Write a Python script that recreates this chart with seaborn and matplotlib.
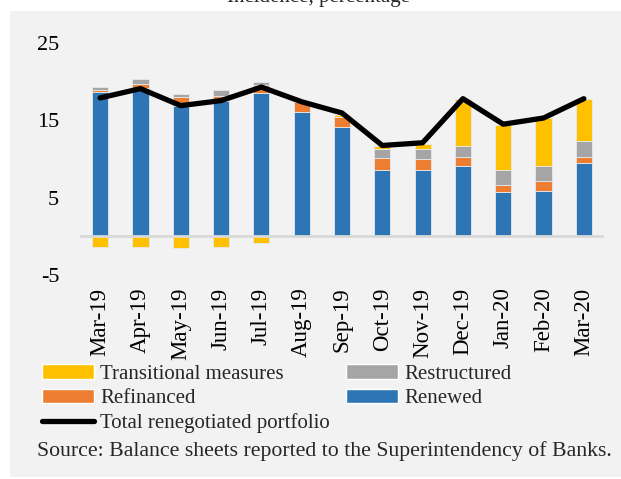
import numpy as np
import pandas as pd
import matplotlib
matplotlib.use("Agg")
import matplotlib.pyplot as plt
import seaborn as sns
from matplotlib.patches import Rectangle, Patch
from matplotlib.lines import Line2D

months = ["Mar-19", "Apr-19", "May-19", "Jun-19", "Jul-19", "Aug-19", "Sep-19",
          "Oct-19", "Nov-19", "Dec-19", "Jan-20", "Feb-20", "Mar-20"]
renewed = [18.7, 19.2, 16.8, 17.5, 18.55, 16.1, 14.1, 8.55, 8.55, 9.15, 5.7, 5.8, 9.45]
refinanced = [0.2, 0.55, 1.2, 0.6, 1.05, 1.3, 1.35, 1.55, 1.5, 1.05, 1.0, 1.4, 0.8]
restructured = [0.45, 0.55, 0.4, 0.8, 0.35, 0.0, 0.0, 1.2, 1.3, 1.5, 1.9, 1.95, 2.1]
transitional = [-1.4, -1.4, -1.5, -1.4, -0.8, 0.0, 0.25, 0.4, 0.65, 6.0, 5.85, 6.15, 5.4]
total = [17.9, 19.1, 16.9, 17.55, 19.3, 17.4, 15.95, 11.75, 12.1, 17.8, 14.5, 15.3, 17.8]
yticks = [25, 15, 5, -5]

c_blue = "#2E75B6"
c_orange = "#ED7D31"
c_gray = "#A5A5A5"
c_yellow = "#FFC000"
bg = "#F2F2F2"

sns.set_theme(style="white")
plt.rcParams["font.family"] = ["Liberation Serif", "DejaVu Serif"]

fig = plt.figure(figsize=(6.21, 4.79), dpi=100, facecolor="white")
fig.patches.append(Rectangle((10 / 621, 1 - 477 / 479), 1 - 10 / 621, (477 - 11) / 479,
                             transform=fig.transFigure, facecolor=bg, edgecolor="none", zorder=-5))
ax = fig.add_axes([80 / 621, 1 - 275 / 479, 524 / 621, 232 / 479])
ax.set_facecolor(bg)
ax.patch.set_alpha(0)

df = pd.DataFrame({"month": months, "renewed": renewed, "refinanced": refinanced,
                   "restructured": restructured, "transitional": transitional, "total": total})
df["month"] = pd.Categorical(df["month"], categories=months, ordered=True)

b_ref = df["renewed"].values
b_res = b_ref + df["refinanced"].values
b_tr_pos = b_res + df["restructured"].values
b_tr = np.where(df["transitional"].values >= 0, b_tr_pos, 0.0)

edge = dict(edgecolor="#E4E9EF", linewidth=0.6)
w = 0.4
sns.barplot(data=df, x="month", y="renewed", color=c_blue, saturation=1, width=w, ax=ax,
            order=months, **edge)
sns.barplot(data=df, x="month", y="refinanced", color=c_orange, saturation=1, width=w, ax=ax,
            order=months, bottom=b_ref, **edge)
sns.barplot(data=df, x="month", y="restructured", color=c_gray, saturation=1, width=w, ax=ax,
            order=months, bottom=b_res, **edge)
sns.barplot(data=df, x="month", y="transitional", color=c_yellow, saturation=1, width=w, ax=ax,
            order=months, bottom=b_tr, **edge)

ax.axhline(0, color="#D9D9D9", linewidth=2, zorder=1.5)

sns.lineplot(x=np.arange(len(months)), y=df["total"].values, color="black", linewidth=3.8,
             ax=ax, solid_capstyle="round", zorder=5)

ax.set_xlim(-0.5, len(months) - 0.5)
ax.set_ylim(-5, 25)
ax.set_yticks(yticks)
ax.set_yticklabels([str(t) for t in yticks], fontsize=16)
ax.set_xticks(range(len(months)))
ax.set_xticklabels(months, rotation=90, fontsize=16.5)
ax.tick_params(axis="both", length=0, colors="black")
ax.tick_params(axis="y", pad=15)
ax.tick_params(axis="x", pad=9)
ax.set_xlabel("")
ax.set_ylabel("")
for s in ax.spines.values():
    s.set_visible(False)

leg_kw = dict(loc="upper left", frameon=False, fontsize=15, handlelength=2.5, handleheight=0.7,
              handletextpad=0.3, labelspacing=0.25, borderpad=0, borderaxespad=0)
h1 = [Patch(facecolor=c_yellow), Patch(facecolor=c_orange),
      Line2D([0], [0], color="black", linewidth=3.8, solid_capstyle="round")]
l1 = ["Transitional measures", "Refinanced", "Total renegotiated portfolio"]
h2 = [Patch(facecolor=c_gray), Patch(facecolor=c_blue)]
l2 = ["Restructured", "Renewed"]
leg1 = fig.legend(h1, l1, bbox_to_anchor=(42 / 621, 1 - 364 / 479), **leg_kw)
leg2 = fig.legend(h2, l2, bbox_to_anchor=(346 / 621, 1 - 364 / 479), **leg_kw)

fig.text(37 / 621, 1 - 451 / 479, "Source: Balance sheets reported to the Superintendency of Banks.",
         fontsize=15.7, ha="left", va="center")
fig.text(318 / 621, 1 - 2 / 479, "Incidence, percentage", fontsize=15, ha="center", va="baseline")

fig.savefig("out.png", dpi=100, facecolor="white")
